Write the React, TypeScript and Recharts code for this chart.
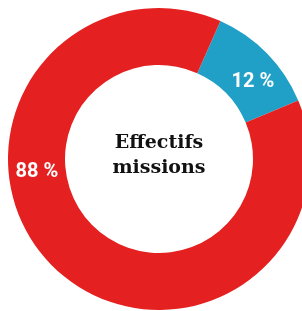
import React from "react";
import { PieChart, Pie, Cell, Label } from "recharts";

const categories = ["Autres", "Missions"];
const values = [12, 88];
const labels = ["12 %", "88 %"];
const colors = ["#21A0C7", "#E42021"];
const centerLines = ["Effectifs", "missions"];

const data = categories.map((name, i) => ({ name, value: values[i], label: labels[i] }));

const RAD = Math.PI / 180;
const labelAngleOverride: Record<number, number> = { 0: 40, 1: 185 };

const renderLabel = (props: any) => {
  const { cx, cy, innerRadius, outerRadius, midAngle, index } = props;
  const ang = labelAngleOverride[index] ?? midAngle;
  const r = (innerRadius + outerRadius) / 2;
  const x = cx + r * Math.cos(-ang * RAD);
  const y = cy + r * Math.sin(-ang * RAD);
  return (
    <text
      x={x}
      y={y}
      fill="#ffffff"
      textAnchor="middle"
      dominantBaseline="central"
      fontFamily="Roboto, sans-serif"
      fontWeight={700}
      fontSize={20}
    >
      {data[index].label}
    </text>
  );
};

const CenterText = (props: any) => {
  const vb = props.viewBox || {};
  const cx = vb.cx ?? 159;
  const cy = vb.cy ?? 159;
  return (
    <text
      textAnchor="middle"
      fontFamily="'DejaVu Serif', serif"
      fontWeight={700}
      fontSize={19}
      fill="#111111"
    >
      <tspan x={cx} y={cy - 11}>{centerLines[0]}</tspan>
      <tspan x={cx} y={cy + 14}>{centerLines[1]}</tspan>
    </text>
  );
};

export default function App() {
  return (
    <div style={{ position: "fixed", left: 0, top: 0, width: 302, height: 311, overflow: "hidden" }}>
      <PieChart width={302} height={311} margin={{ top: 0, right: 0, bottom: 0, left: 0 }}>
        <Pie
          data={data}
          dataKey="value"
          nameKey="name"
          cx={159}
          cy={159}
          innerRadius={94}
          outerRadius={151}
          startAngle={66}
          endAngle={-294}
          stroke="none"
          label={renderLabel}
          labelLine={false}
          isAnimationActive={false}
        >
          {data.map((d, i) => (
            <Cell key={d.name} fill={colors[i]} />
          ))}
          <Label position="center" content={<CenterText />} />
        </Pie>
      </PieChart>
    </div>
  );
}
